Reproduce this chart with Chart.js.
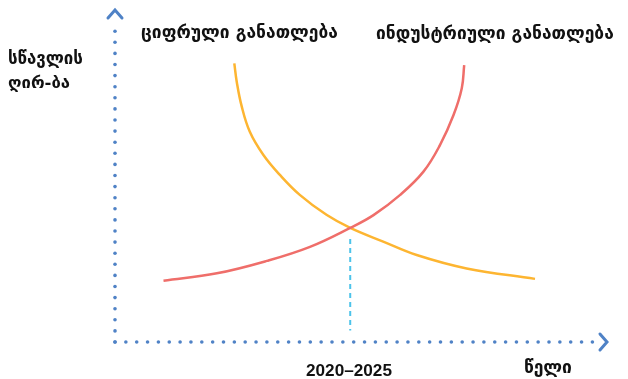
<!DOCTYPE html>
<html>
<head>
<meta charset="utf-8">
<script src="https://cdn.jsdelivr.net/npm/chart.js@4.4.1/dist/chart.umd.min.js"></script>
<style>
html, body { margin: 0; padding: 0; background: #fff; }
</style>
</head>
<body>
<canvas id="chart" width="628" height="379"></canvas>
<script>
// curve data (relative units 0..100 on both axes)
const digitalX = [24.6, 25.1, 26.1, 27.8, 30.6, 34.0, 38.1, 43.6, 48.5, 55.3, 62.2, 72.5, 86.6];
const digitalY = [85.2, 79.6, 72.2, 64.3, 57.2, 51.1, 45.0, 38.9, 34.9, 30.7, 26.6, 22.5, 19.3];
const industrialX = [10.0, 21.0, 31.3, 40.2, 48.5, 53.3, 58.8, 63.6, 67.0, 69.8, 71.5, 72.0];
const industrialY = [18.7, 21.0, 24.8, 29.1, 34.9, 38.8, 45.0, 52.1, 60.2, 69.4, 77.6, 84.7];
const markerX = [48.5, 48.5];
const markerY = [31.5, 3.5];

const seriesNames = ['ციფრული განათლება', 'ინდუსტრიული განათლება'];
const yAxisLabel = ['სწავლის', 'ღირ-ბა'];
const xAxisLabel = 'წელი';
const periodLabel = '2020–2025';

const toPoints = (xs, ys) => xs.map((x, i) => ({ x: x, y: ys[i] }));

const AXIS_COLOR = '#4f82c6';
const GEO_FONT = "'DejaVu Sans'";

function fitText(ctx, text, x, y, w, family) {
    ctx.font = 'bold 20px ' + family;
    const size = 20 * w / ctx.measureText(text).width;
    ctx.font = 'bold ' + size.toFixed(2) + 'px ' + family;
    ctx.fillText(text, x, y);
}

const decorPlugin = {
    id: 'decor',
    beforeDatasetsDraw(chart) {
        const ctx = chart.ctx;
        const ca = chart.chartArea;
        ctx.save();
        ctx.fillStyle = AXIS_COLOR;
        // dotted y axis
        for (let y = ca.bottom; y >= 28; y -= 11.1) {
            ctx.beginPath();
            ctx.arc(ca.left, y, 1.8, 0, Math.PI * 2);
            ctx.fill();
        }
        // dotted x axis
        for (let x = ca.left; x <= 598; x += 10.85) {
            ctx.beginPath();
            ctx.arc(x, ca.bottom, 1.8, 0, Math.PI * 2);
            ctx.fill();
        }
        // arrow heads
        ctx.strokeStyle = AXIS_COLOR;
        ctx.lineWidth = 3;
        ctx.lineCap = 'round';
        ctx.beginPath();
        ctx.moveTo(ca.left - 7, 18);
        ctx.lineTo(ca.left, 10);
        ctx.lineTo(ca.left + 7, 18);
        ctx.stroke();
        ctx.beginPath();
        ctx.moveTo(600, ca.bottom - 8);
        ctx.lineTo(607, ca.bottom);
        ctx.lineTo(600, ca.bottom + 8);
        ctx.stroke();
        ctx.restore();
    },
    afterDraw(chart) {
        const ctx = chart.ctx;
        ctx.save();
        ctx.fillStyle = '#111';
        ctx.textBaseline = 'alphabetic';
        ctx.textAlign = 'left';
        fitText(ctx, seriesNames[0], 141, 38, 197, GEO_FONT);
        fitText(ctx, seriesNames[1], 376, 39, 238, GEO_FONT);
        fitText(ctx, yAxisLabel[0], 8, 64, 75, GEO_FONT);
        fitText(ctx, yAxisLabel[1], 8, 88, 62, GEO_FONT);
        fitText(ctx, xAxisLabel, 524, 373, 48, GEO_FONT);
        fitText(ctx, periodLabel, 306, 376, 86, "'Liberation Sans'");
        ctx.restore();
    }
};

new Chart(document.getElementById('chart'), {
    type: 'scatter',
    data: {
        datasets: [
            {
                label: 'marker',
                data: toPoints(markerX, markerY),
                showLine: true,
                borderColor: '#4cc3ea',
                borderWidth: 2,
                borderDash: [5, 4],
                pointRadius: 0
            },
            {
                label: seriesNames[1],
                data: toPoints(industrialX, industrialY),
                showLine: true,
                borderColor: '#ef6e6a',
                borderWidth: 2.5,
                pointRadius: 0,
                tension: 0.4
            },
            {
                label: seriesNames[0],
                data: toPoints(digitalX, digitalY),
                showLine: true,
                borderColor: '#fdb531',
                borderWidth: 2.5,
                pointRadius: 0,
                tension: 0.4
            }
        ]
    },
    options: {
        responsive: false,
        animation: false,
        devicePixelRatio: 1,
        layout: { padding: { left: 115, right: 28, top: 15, bottom: 37 } },
        scales: {
            x: { type: 'linear', min: 0, max: 100, display: false },
            y: { type: 'linear', min: 0, max: 100, display: false }
        },
        plugins: {
            legend: { display: false },
            tooltip: { enabled: false }
        }
    },
    plugins: [decorPlugin]
});
</script>
</body>
</html>
